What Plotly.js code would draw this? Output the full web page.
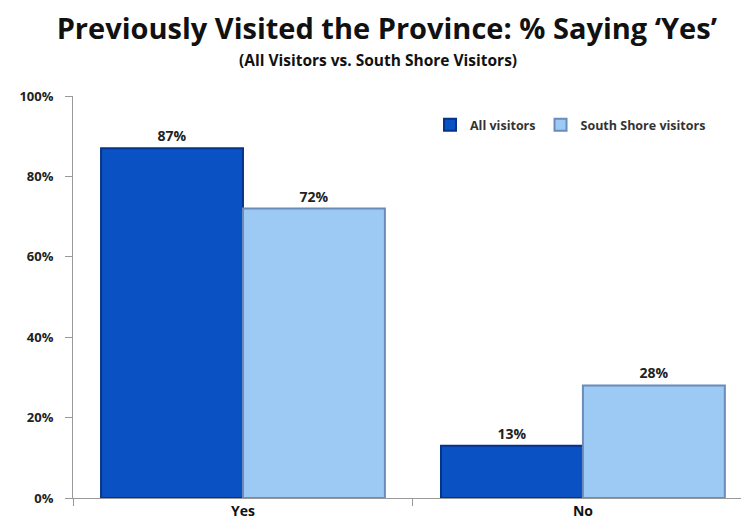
<!DOCTYPE html>
<html>
<head>
<meta charset="utf-8">
<script src="https://cdn.plot.ly/plotly-3.0.1.min.js"></script>
<style>html,body{margin:0;padding:0;background:#fff;}#chart{width:741px;height:532px;}</style>
</head>
<body>
<div id="chart"></div>
<script>
const categories = ["Yes", "No"];
const seriesNames = ["All visitors", "South Shore visitors"];
const allVisitors = [87, 13];
const southShoreVisitors = [72, 28];
const yTickValues = [0, 20, 40, 60, 80, 100];
const yTickLabels = ["0%", "20%", "40%", "60%", "80%", "100%"];

const FONT = '"Open Sans", Arial, sans-serif';

const traces = [
  {
    type: 'bar', name: '<b>' + seriesNames[0] + '</b>', x: categories, y: allVisitors,
    marker: {color: '#0a52c4', line: {color: '#06338a', width: 2}},
    text: allVisitors.map(v => '<b>' + v + '%</b>'), textposition: 'outside', cliponaxis: false,
    textfont: {family: FONT, size: 14, color: '#222'}, hoverinfo: 'none'
  },
  {
    type: 'bar', name: '<b>' + seriesNames[1] + '</b>', x: categories, y: southShoreVisitors,
    marker: {color: '#9dc9f5', line: {color: '#6b8cb8', width: 2}},
    text: southShoreVisitors.map(v => '<b>' + v + '%</b>'), textposition: 'outside', cliponaxis: false,
    textfont: {family: FONT, size: 14, color: '#222'}, hoverinfo: 'none'
  }
];

const layout = {
  width: 741, height: 532,
  margin: {l: 73, r: 0, t: 96, b: 34, pad: 0},
  paper_bgcolor: '#fff', plot_bgcolor: '#fff',
  font: {family: FONT, color: '#222'},
  title: {
    text: '<b>Previously Visited the Province: % Saying ‘Yes’</b>',
    font: {family: FONT, size: 29, color: '#111'},
    x: 0.522, xref: 'container', xanchor: 'center', y: 0.945, yref: 'container', yanchor: 'middle'
  },
  annotations: [{
    text: '<b>(All Visitors vs. South Shore Visitors)</b>',
    xref: 'paper', yref: 'paper', x: (378 - 73) / 668, y: (498 - 60) / 402,
    xanchor: 'center', yanchor: 'middle', showarrow: false,
    font: {family: FONT, size: 15.5, color: '#111'}
  }],
  barmode: 'group', bargap: 0.165, bargroupgap: 0,
  xaxis: {
    type: 'category', range: [-0.5, 1.465],
    showline: true, linecolor: '#999', linewidth: 1,
    ticks: 'outside', tickson: 'boundaries', ticklen: 7, tickcolor: '#999',
    tickfont: {family: FONT, size: 14, color: '#111'},
    ticktext: categories.map(c => '<b>' + c + '</b>'), tickvals: categories,
    showgrid: false, zeroline: false, fixedrange: true
  },
  yaxis: {
    range: [0, 100], tickvals: yTickValues, ticktext: yTickLabels.map(t => '<b>' + t + '</b>'),
    showline: true, linecolor: '#999', linewidth: 1,
    ticks: 'outside', ticklen: 7, tickcolor: '#999', ticklabelstandoff: 9,
    tickfont: {family: FONT, size: 13, color: '#222'},
    showgrid: false, zeroline: false, fixedrange: true
  },
  legend: {
    orientation: 'h', x: (430 - 73) / 668, xanchor: 'left', y: (498 - 125) / 402, yanchor: 'middle',
    font: {family: FONT, size: 12.5, color: '#333'}, bgcolor: 'rgba(0,0,0,0)',
    tracegroupgap: 0
  },
  showlegend: true
};

Plotly.newPlot('chart', traces, layout, {displayModeBar: false, staticPlot: true});
</script>
</body>
</html>
